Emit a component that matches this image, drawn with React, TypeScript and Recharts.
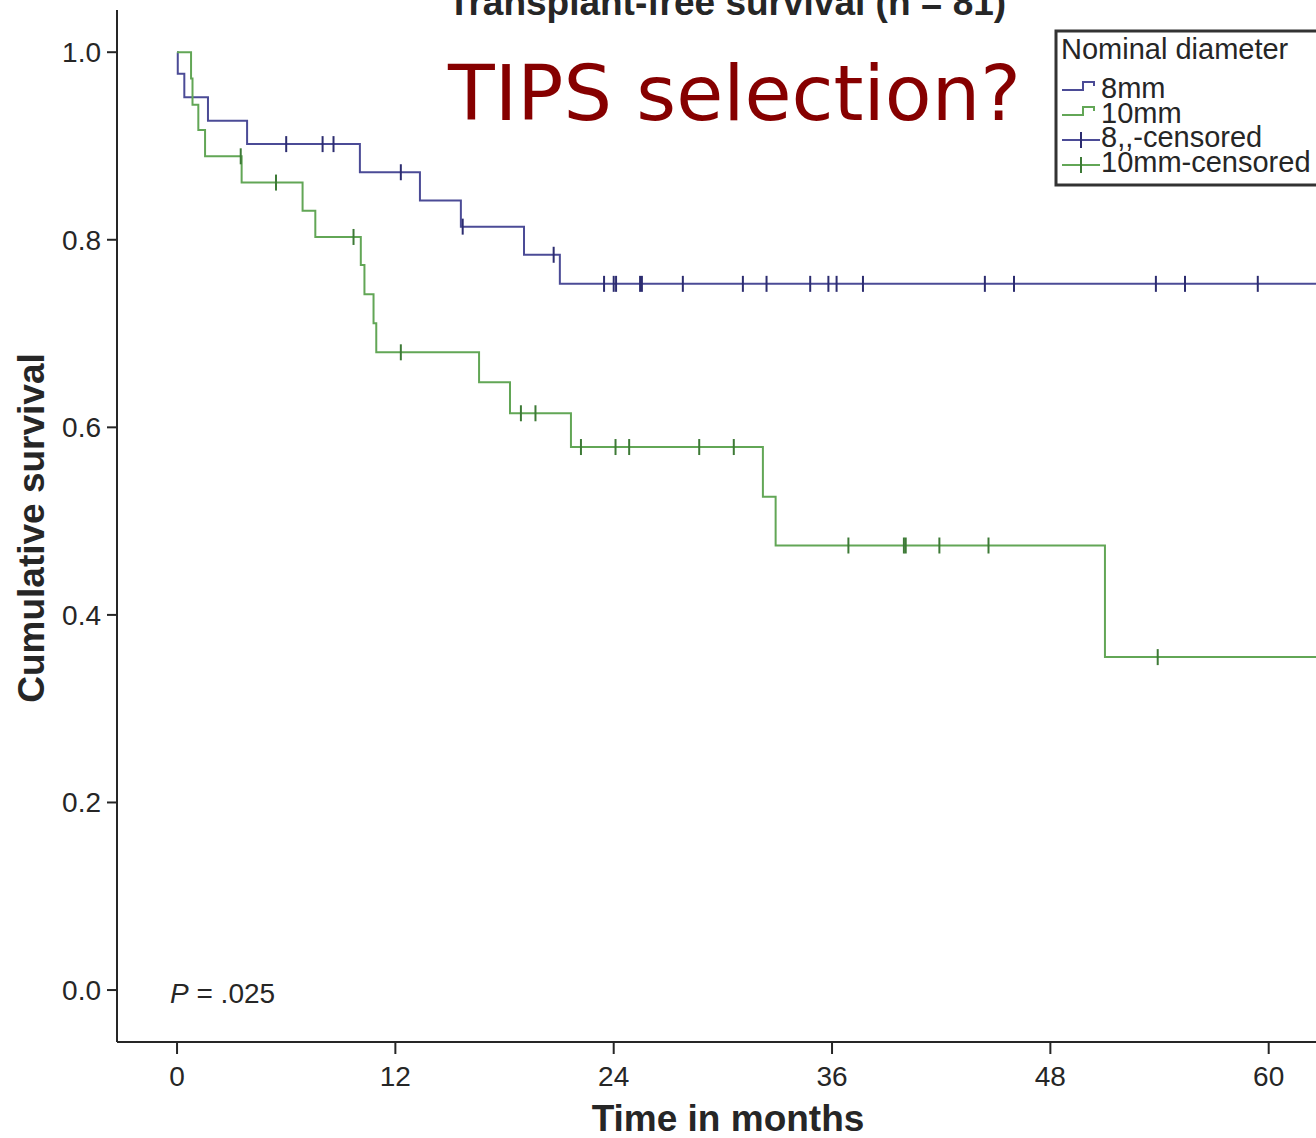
import { ComposedChart, Line, Scatter, XAxis, YAxis } from 'recharts';

// Kaplan-Meier steps
const months8 = [0, 0.04, 0.4, 1.7, 3.85, 10.05, 13.35, 15.6, 19.07, 21.04, 62.6];
const surv8 = [1.0, 0.977, 0.952, 0.927, 0.902, 0.872, 0.842, 0.814, 0.784, 0.753, 0.753];

const months10 = [0, 0.77, 0.85, 1.17, 1.54, 3.55, 6.9, 7.6, 10.1, 10.3, 10.8, 10.95, 16.6, 18.3, 21.65, 32.2, 32.9, 51.0, 62.6];
const surv10 = [1.0, 0.972, 0.944, 0.917, 0.889, 0.861, 0.831, 0.803, 0.773, 0.742, 0.711, 0.68, 0.648, 0.615, 0.579, 0.526, 0.474, 0.355, 0.355];

// censored observations (months)
const censored8 = [6.0, 8.0, 8.6, 12.3, 15.7, 20.7, 23.47, 24.0, 24.13, 25.45, 25.55, 27.8, 31.1, 32.4, 34.8, 35.8, 36.25, 37.7, 44.4, 46.0, 53.8, 55.4, 59.4];
const censored10 = [3.5, 5.44, 9.7, 12.3, 18.9, 19.7, 22.2, 24.1, 24.85, 28.7, 30.6, 36.9, 39.95, 40.05, 41.9, 44.6, 53.9];

const timeTicks = [0, 12, 24, 36, 48, 60];
const survTicks = [0, 0.2, 0.4, 0.6, 0.8, 1.0];

const BLUE = '#4b4b96';
const BLUE_DARK = '#2c2c70';
const GREEN = '#62a656';
const GREEN_DARK = '#3d7a36';
const INK = '#262626';

function survivalAt(times: number[], surv: number[], t: number) {
  let v = surv[0];
  for (let i = 0; i < times.length; i++) {
    if (times[i] <= t) v = surv[i];
  }
  return v;
}

const line8 = months8.map((t, i) => ({ t, v: surv8[i] }));
const line10 = months10.map((t, i) => ({ t, v: surv10[i] }));
const marks8 = censored8.map((t) => ({ t, v: survivalAt(months8, surv8, t) }));
const marks10 = censored10.map((t) => ({ t, v: survivalAt(months10, surv10, t) }));

const censorTick = (color: string) => (props: any) => {
  const { cx, cy } = props;
  return <line x1={cx} y1={cy - 8} x2={cx} y2={cy + 8} stroke={color} strokeWidth={2} />;
};

const FONT = 'Liberation Sans, Arial, sans-serif';

export default function App() {
  return (
    <div style={{ position: 'absolute', left: 0, top: 0 }}>
      <ComposedChart width={1316} height={1138} margin={{ top: 10, right: 0, bottom: 0, left: 0 }}>
        <XAxis
          type="number"
          dataKey="t"
          domain={[-3.3, 62.6]}
          ticks={timeTicks}
          allowDataOverflow
          height={96}
          tickSize={12}
          tickMargin={12}
          axisLine={{ stroke: INK, strokeWidth: 2 }}
          tickLine={{ stroke: INK, strokeWidth: 2 }}
          tick={{ fill: INK, fontSize: 28, fontFamily: FONT }}
        />
        <YAxis
          type="number"
          dataKey="v"
          domain={[-0.0554, 1.045]}
          ticks={survTicks}
          allowDataOverflow
          width={117}
          tickSize={10}
          tickMargin={6}
          tickFormatter={(v: number) => v.toFixed(1)}
          axisLine={{ stroke: INK, strokeWidth: 2 }}
          tickLine={{ stroke: INK, strokeWidth: 2 }}
          tick={{ fill: INK, fontSize: 28, fontFamily: FONT }}
        />
        <Line data={line8} dataKey="v" type="stepAfter" stroke={BLUE} strokeWidth={2} dot={false} isAnimationActive={false} />
        <Line data={line10} dataKey="v" type="stepAfter" stroke={GREEN} strokeWidth={2} dot={false} isAnimationActive={false} />
        <Scatter data={marks8} dataKey="v" shape={censorTick(BLUE_DARK)} isAnimationActive={false} />
        <Scatter data={marks10} dataKey="v" shape={censorTick(GREEN_DARK)} isAnimationActive={false} />

        <text x={727} y={15} textAnchor="middle" fontFamily={FONT} fontWeight="bold" fontSize={37} fill={INK}>
          Transplant-free survival (n = 81)
        </text>
        <text x={448} y={120} fontFamily="DejaVu Sans, Verdana, sans-serif" fontSize={76.5} fill="#860000">
          TIPS selection?
        </text>
        <text x={170} y={1003} fontFamily={FONT} fontSize={28} fill={INK}>
          <tspan fontStyle="italic">P</tspan> = .025
        </text>
        <text x={728} y={1131} textAnchor="middle" fontFamily={FONT} fontWeight="bold" fontSize={37} fill={INK}>
          Time in months
        </text>
        <text
          x={44}
          y={528}
          textAnchor="middle"
          transform="rotate(-90, 44, 528)"
          fontFamily={FONT}
          fontWeight="bold"
          fontSize={37}
          fill={INK}
        >
          Cumulative survival
        </text>

        {/* legend box */}
        <rect x={1056} y={31} width={270} height={154} fill="#fff" stroke="#333" strokeWidth={3} />
        <text x={1061} y={59} fontFamily={FONT} fontSize={29} fill={INK}>Nominal diameter</text>
        <polyline points="1062,90 1083,90 1083,82 1094,82 1094,86" fill="none" stroke={BLUE} strokeWidth={2} />
        <text x={1101} y={98} fontFamily={FONT} fontSize={29} fill={INK}>8mm</text>
        <polyline points="1062,115 1083,115 1083,107 1094,107 1094,111" fill="none" stroke={GREEN} strokeWidth={2} />
        <text x={1101} y={123} fontFamily={FONT} fontSize={29} fill={INK}>10mm</text>
        <line x1={1062} y1={140} x2={1100} y2={140} stroke={BLUE} strokeWidth={2} />
        <line x1={1081} y1={132} x2={1081} y2={148} stroke={BLUE_DARK} strokeWidth={2} />
        <text x={1101} y={147} fontFamily={FONT} fontSize={29} fill={INK}>8,,-censored</text>
        <line x1={1062} y1={165} x2={1100} y2={165} stroke={GREEN} strokeWidth={2} />
        <line x1={1081} y1={157} x2={1081} y2={173} stroke={GREEN_DARK} strokeWidth={2} />
        <text x={1101} y={172} fontFamily={FONT} fontSize={29} fill={INK}>10mm-censored</text>
      </ComposedChart>
    </div>
  );
}
